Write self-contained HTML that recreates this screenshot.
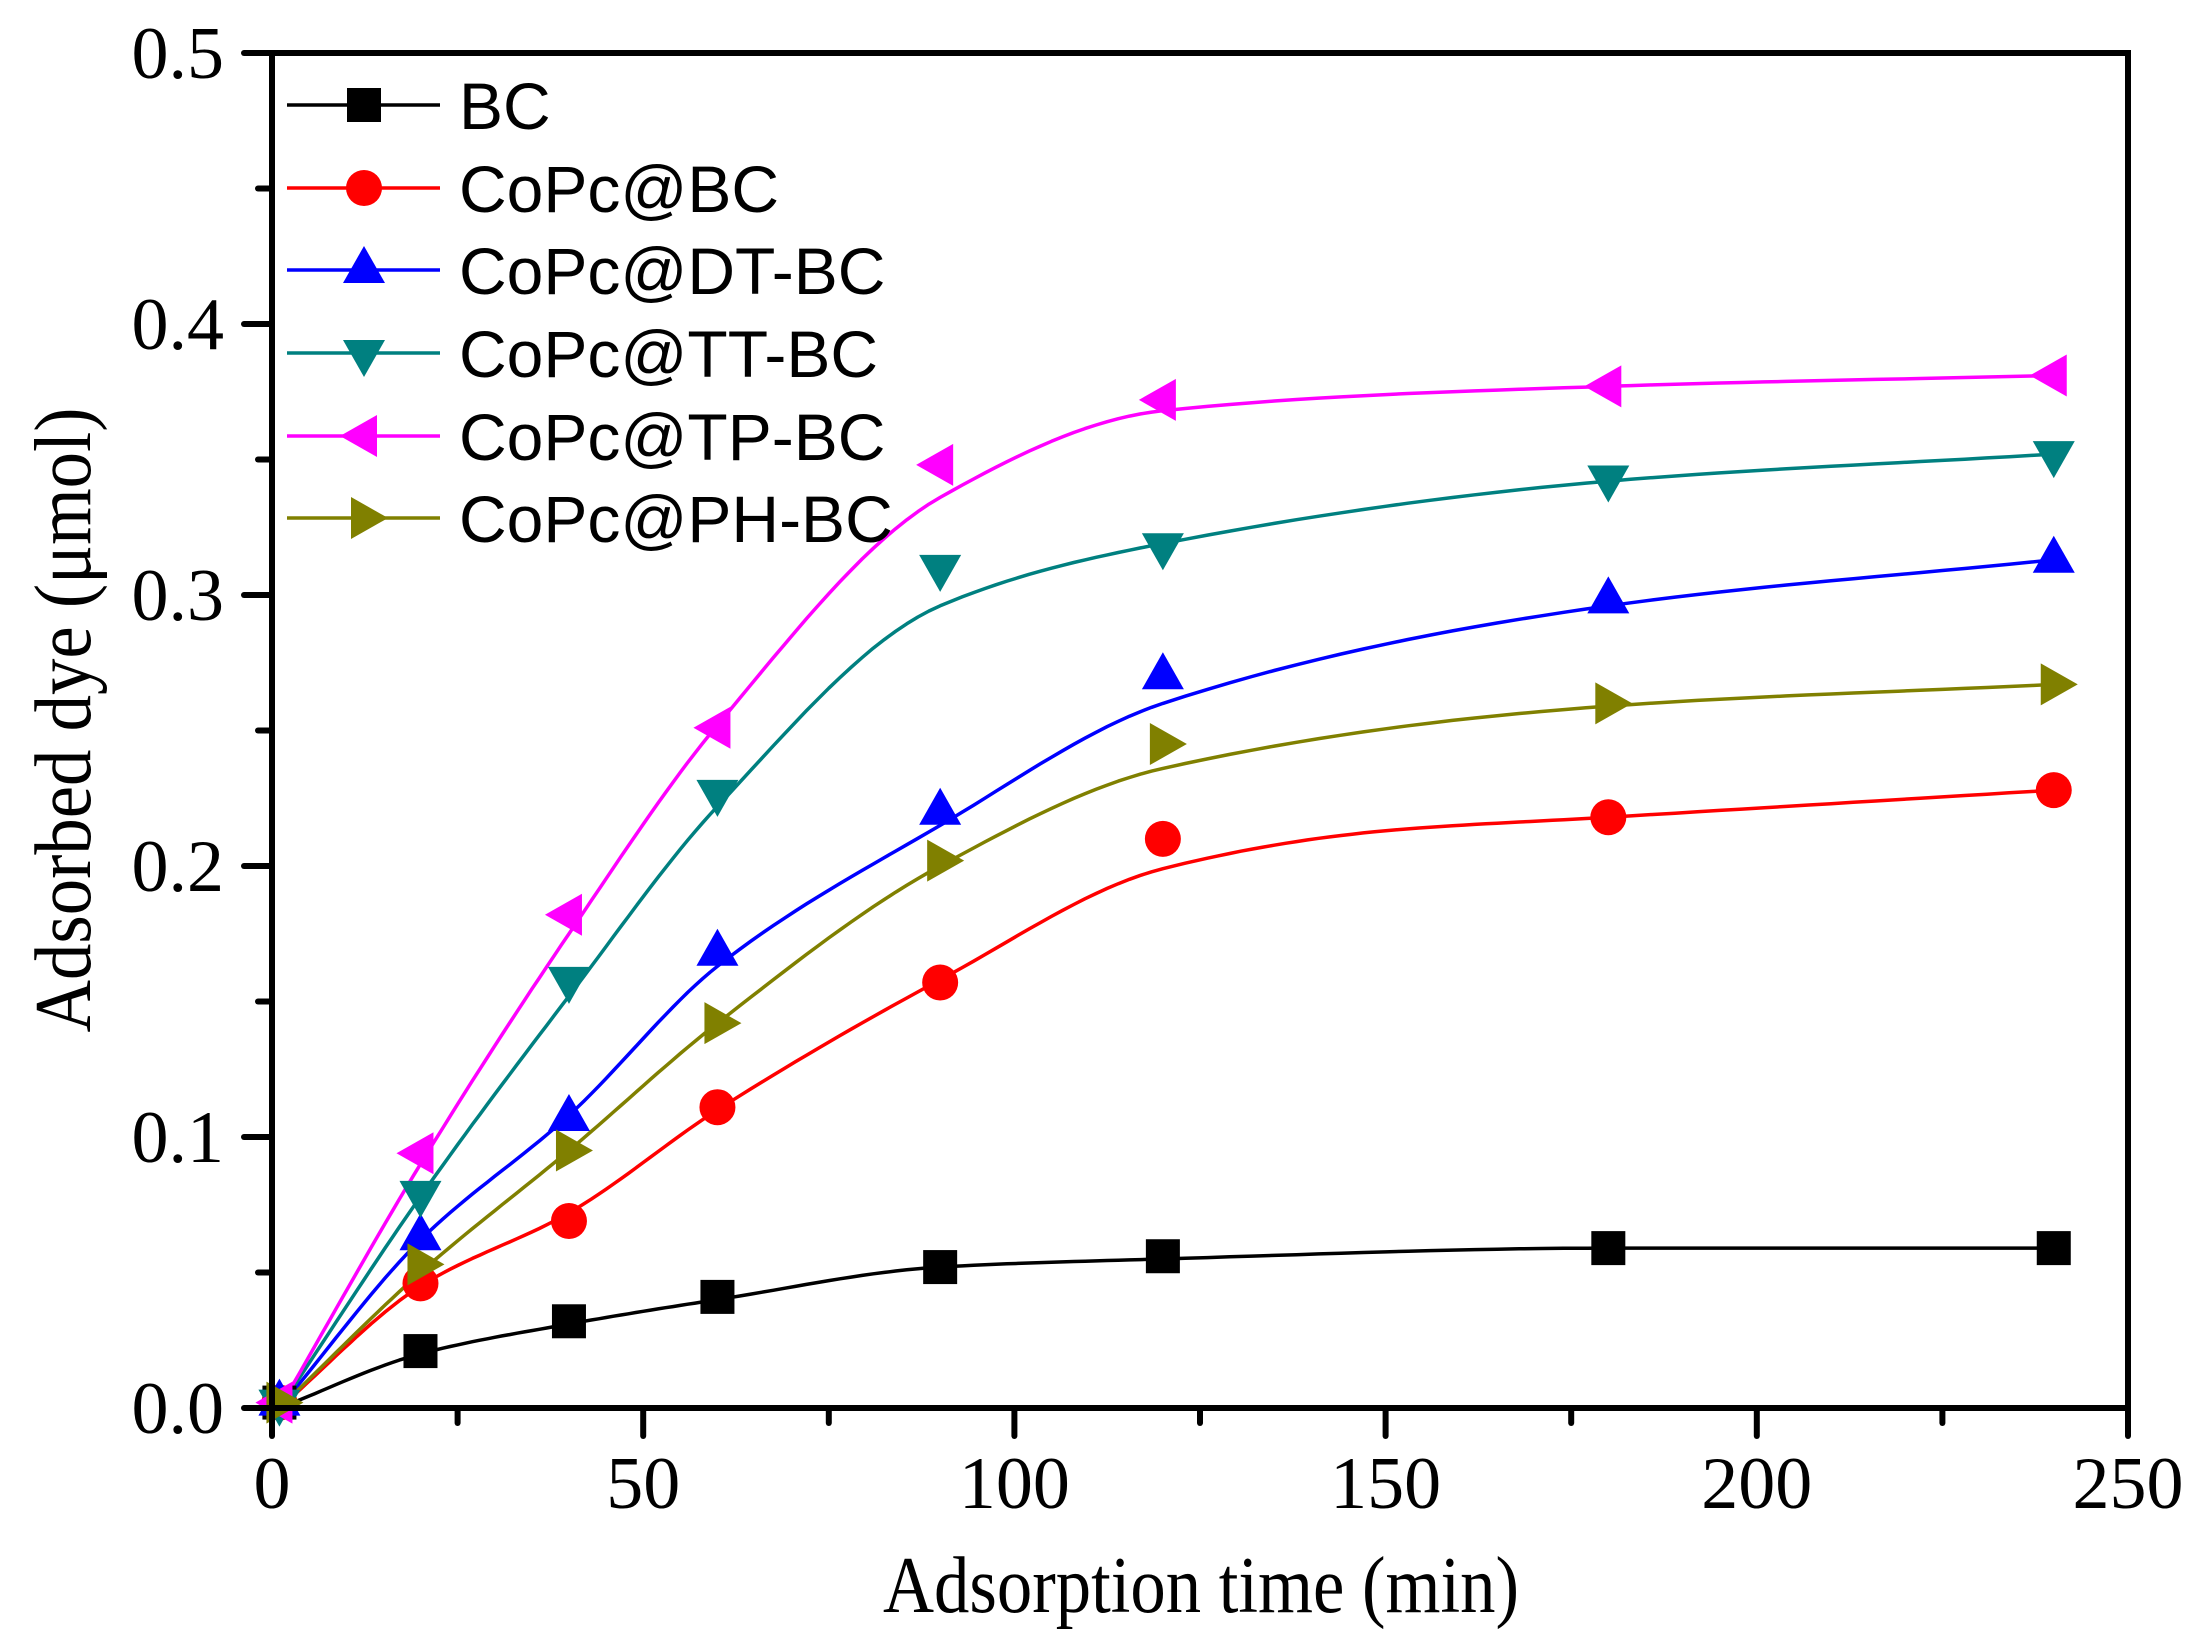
<!DOCTYPE html>
<html><head><meta charset="utf-8"><style>
html,body{margin:0;padding:0;background:#fff;}
svg{display:block;}
</style></head><body>
<svg id="c" xmlns="http://www.w3.org/2000/svg" width="2204" height="1648" viewBox="0 0 2204 1648">
<rect width="2204" height="1648" fill="#fff"/>
<g id="curves"></g>
<g id="marks"></g>
<g stroke="#000" stroke-width="6" stroke-linecap="round" fill="none">
<rect x="272" y="53" width="1856" height="1355" stroke-linecap="butt"/>
</g>
<g id="ticks" stroke="#000" stroke-width="6" stroke-linecap="round"></g>
<g id="labels" font-family="'Liberation Serif',serif" font-size="74" fill="#000"></g>
<text x="1201" y="1612" font-family="'Liberation Serif',serif" font-size="80" text-anchor="middle" textLength="636" lengthAdjust="spacingAndGlyphs">Adsorption time (min)</text>
<text transform="translate(90,720) rotate(-90)" font-family="'Liberation Serif',serif" font-size="80" text-anchor="middle" textLength="625" lengthAdjust="spacingAndGlyphs">Adsorbed dye (μmol)</text>
<g id="legend" font-family="'Liberation Sans',Arial,sans-serif" font-size="66"></g>
</svg>
<script>
var NS="http://www.w3.org/2000/svg";
function X(t){return 272+t*7.424;}
function Y(v){return 1408-v*2710;}
function el(p,tag,a,txt){var e=document.createElementNS(NS,tag);for(var k in a)e.setAttribute(k,a[k]);if(txt!==undefined)e.textContent=txt;p.appendChild(e);return e;}
var S=[
{c:"#000",m:"sq",pts:[[20,.021],[40,.032],[60,.041],[90,.052],[120,.056],[180,.059],[240,.059]],
 cv:[[1,0],[20,.02],[40,.031],[60,.04],[90,.052],[120,.055],[180,.059],[240,.059]],n:"BC"},
{c:"#ff0000",m:"ci",pts:[[20,.046],[40,.069],[60,.111],[90,.157],[120,.21],[180,.218],[240,.228]],
 cv:[[1,0],[20,.045],[40,.072],[60,.11],[90,.158],[120,.199],[150,.213],[180,.218],[240,.228]],n:"CoPc@BC"},
{c:"#0000ff",m:"up",pts:[[20,.063],[40,.107],[60,.168],[90,.22],[120,.27],[180,.298],[240,.313]],
 cv:[[1,0],[20,.062],[40,.108],[60,.163],[90,.215],[120,.26],[180,.296],[240,.313]],n:"CoPc@DT-BC"},
{c:"#008080",m:"dn",pts:[[20,.079],[40,.158],[60,.227],[90,.31],[120,.318],[180,.343],[240,.352]],
 cv:[[1,0],[20,.078],[40,.152],[60,.222],[90,.296],[120,.319],[180,.342],[240,.352]],n:"CoPc@TT-BC"},
{c:"#ff00ff",m:"lt",pts:[[20,.094],[40,.182],[60,.251],[90,.348],[120,.372],[180,.377],[240,.381]],
 cv:[[1,0],[20,.09],[40,.175],[60,.252],[90,.336],[120,.368],[180,.377],[240,.381]],n:"CoPc@TP-BC"},
{c:"#808000",m:"rt",pts:[[20,.053],[40,.095],[60,.142],[90,.202],[120,.245],[180,.26],[240,.267]],
 cv:[[1,0],[20,.05],[40,.095],[60,.142],[90,.2],[120,.236],[180,.259],[240,.267]],n:"CoPc@PH-BC"}
];
function mono(p){
 var n=p.length,xs=p.map(function(q){return q[0]}),ys=p.map(function(q){return q[1]}),d=[],m=[];
 for(var i=0;i<n-1;i++)d.push((ys[i+1]-ys[i])/(xs[i+1]-xs[i]));
 m[0]=d[0];m[n-1]=d[n-2];
 for(i=1;i<n-1;i++){if(d[i-1]*d[i]<=0)m[i]=0;else{var w1=2*(xs[i+1]-xs[i])+(xs[i]-xs[i-1]),w2=(xs[i+1]-xs[i])+2*(xs[i]-xs[i-1]);m[i]=(w1+w2)/(w1/d[i-1]+w2/d[i]);}}
 var s="";
 for(i=0;i<n-1;i++){var h=xs[i+1]-xs[i];
  for(var k=0;k<=20;k++){var t=k/20,t2=t*t,t3=t2*t;
   var y=(2*t3-3*t2+1)*ys[i]+(t3-2*t2+t)*h*m[i]+(-2*t3+3*t2)*ys[i+1]+(t3-t2)*h*m[i+1];
   var x=xs[i]+t*h;
   if(i>0&&k==0)continue;
   s+=(s?" L":"M")+X(x).toFixed(1)+","+Y(y).toFixed(1);}}
 return s;}
function mk(g,t,x,y,c){
 if(t=="sq")el(g,"rect",{x:x-17,y:y-17,width:34,height:34,fill:c});
 else if(t=="ci")el(g,"circle",{cx:x,cy:y,r:18,fill:c});
 else if(t=="up")el(g,"polygon",{points:(x-21)+","+(y+13)+" "+(x+21)+","+(y+13)+" "+x+","+(y-24),fill:c});
 else if(t=="dn")el(g,"polygon",{points:(x-21)+","+(y-13)+" "+(x+21)+","+(y-13)+" "+x+","+(y+24),fill:c});
 else if(t=="lt")el(g,"polygon",{points:(x+13)+","+(y-21)+" "+(x+13)+","+(y+21)+" "+(x-24)+","+y,fill:c});
 else el(g,"polygon",{points:(x-13)+","+(y-21)+" "+(x-13)+","+(y+21)+" "+(x+24)+","+y,fill:c});
}
var cg=document.getElementById("curves"),mg=document.getElementById("marks"),lg=document.getElementById("legend");
S.forEach(function(s,i){
 el(cg,"path",{d:mono(s.cv),fill:"none",stroke:s.c,"stroke-width":3.5,"stroke-linejoin":"round"});
 mk(mg,s.m,X(1),Y(.002),s.c);
 s.pts.forEach(function(p){mk(mg,s.m,X(p[0]),Y(p[1]),s.c);});
 var ly=[105,188,270,353,436,518][i];
 el(lg,"line",{x1:287,y1:ly,x2:440,y2:ly,stroke:s.c,"stroke-width":3.5});
 mk(lg,s.m,364,ly,s.c);
 el(lg,"text",{x:459,y:ly+24,fill:"#000"},s.n);
});
var tg=document.getElementById("ticks"),lb=document.getElementById("labels");
for(var t=0;t<=250;t+=25){var x=X(t),maj=t%50==0;el(tg,"line",{x1:x,y1:1408,x2:x,y2:1408+(maj?28:15)});
 if(maj)el(lb,"text",{x:x,y:1508,"text-anchor":"middle"},String(t));}
for(var k=0;k<=10;k++){var v=k*0.05,y=Y(v),maj=k%2==0;el(tg,"line",{x1:272,y1:y,x2:272-(maj?28:14),y2:y});
 if(maj)el(lb,"text",{x:224,y:y+25,"text-anchor":"end"},v.toFixed(1));}
</script>
</body></html>
